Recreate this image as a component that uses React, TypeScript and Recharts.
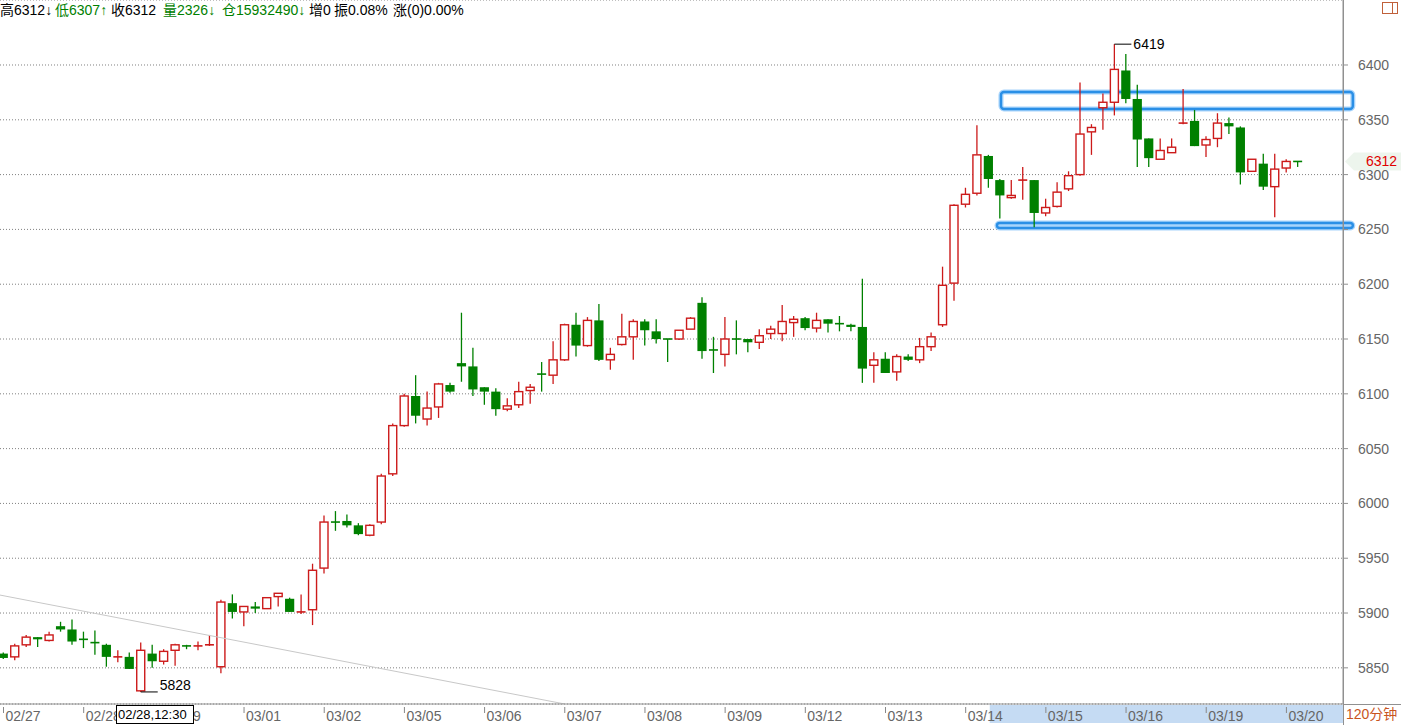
import React from 'react';
import {
  ComposedChart,
  Bar,
  XAxis,
  YAxis,
  CartesianGrid,
  ReferenceLine,
  ReferenceArea,
} from 'recharts';

// ---------- data ----------
const dayLabels = ['02/27', '02/28', '02/29', '03/01', '03/02', '03/05', '03/06', '03/07', '03/08', '03/09', '03/12', '03/13', '03/14', '03/15', '03/16', '03/19', '03/20'];
const candlesPerDay = 7;

const opens = [
  5863, 5860, 5871, 5878, 5875, 5888, 5885, 5876, 5873, 5871,
  5859, 5860, 5829, 5863, 5856, 5866, 5870, 5869, 5870, 5851,
  5909, 5901, 5906, 5904, 5915, 5913, 5900, 5903, 5941, 5983,
  5984, 5980, 5971, 5983, 6027, 6071, 6098, 6077, 6088, 6108,
  6128, 6125, 6106, 6102, 6086, 6090, 6103, 6118, 6117, 6131,
  6163, 6144, 6167, 6131, 6145, 6152, 6166, 6157, 6150, 6150,
  6159, 6183, 6140, 6136, 6150, 6150, 6147, 6155, 6155, 6165,
  6169, 6160, 6168, 6164, 6163, 6161, 6126, 6132, 6120, 6134,
  6131, 6143, 6163, 6201, 6273, 6283, 6317, 6295, 6279, 6294,
  6295, 6265, 6271, 6287, 6300, 6339, 6361, 6366, 6395, 6369,
  6333, 6314, 6320, 6346, 6349, 6327, 6333, 6347, 6343, 6303,
  6310, 6289, 6306, 6312,
];
const highs = [
  5864, 5872, 5880, 5878, 5883, 5892, 5894, 5883, 5884, 5872,
  5866, 5864, 5873, 5871, 5867, 5872, 5871, 5874, 5880, 5912,
  5917, 5906, 5910, 5914, 5918, 5914, 5917, 5945, 5989, 5993,
  5990, 5982, 5981, 6027, 6073, 6100, 6117, 6102, 6110, 6110,
  6174, 6142, 6106, 6105, 6096, 6111, 6109, 6129, 6148, 6164,
  6174, 6170, 6182, 6142, 6173, 6168, 6168, 6168, 6150, 6158,
  6170, 6188, 6152, 6170, 6167, 6150, 6159, 6162, 6181, 6171,
  6170, 6174, 6168, 6171, 6164, 6205, 6138, 6138, 6136, 6136,
  6151, 6156, 6216, 6273, 6288, 6345, 6318, 6296, 6295, 6307,
  6295, 6278, 6293, 6303, 6384, 6346, 6374, 6419, 6410, 6382,
  6333, 6333, 6333, 6378, 6359, 6335, 6356, 6352, 6344, 6314,
  6319, 6319, 6314, 6312,
];
const lows = [
  5858, 5857, 5869, 5869, 5874, 5883, 5871, 5868, 5862, 5851,
  5855, 5849, 5828, 5850, 5853, 5852, 5867, 5866, 5870, 5845,
  5895, 5888, 5900, 5904, 5906, 5901, 5899, 5889, 5936, 5975,
  5978, 5971, 5970, 5981, 6025, 6070, 6073, 6071, 6078, 6101,
  6111, 6098, 6090, 6080, 6084, 6087, 6091, 6102, 6109, 6130,
  6134, 6143, 6130, 6122, 6144, 6131, 6144, 6146, 6129, 6149,
  6159, 6132, 6119, 6125, 6136, 6138, 6141, 6150, 6148, 6152,
  6158, 6156, 6156, 6157, 6157, 6110, 6110, 6119, 6112, 6130,
  6128, 6139, 6161, 6185, 6270, 6281, 6288, 6260, 6278, 6277,
  6252, 6262, 6270, 6285, 6299, 6318, 6341, 6354, 6365, 6307,
  6307, 6314, 6320, 6346, 6326, 6316, 6325, 6337, 6291, 6303,
  6286, 6261, 6302, 6307,
];
const closes = [
  5859, 5870, 5878, 5876, 5880, 5885, 5874, 5875, 5872, 5860,
  5860, 5849, 5866, 5856, 5865, 5871, 5869, 5870, 5871, 5910,
  5901, 5906, 5904, 5914, 5918, 5901, 5901, 5939, 5983, 5982,
  5980, 5972, 5980, 6025, 6071, 6098, 6080, 6087, 6109, 6102,
  6125, 6104, 6102, 6086, 6089, 6102, 6106, 6117, 6131, 6163,
  6144, 6167, 6131, 6136, 6152, 6166, 6158, 6150, 6149, 6158,
  6169, 6139, 6139, 6150, 6149, 6147, 6153, 6159, 6166, 6168,
  6160, 6167, 6164, 6163, 6161, 6123, 6131, 6119, 6134, 6131,
  6143, 6152, 6199, 6272, 6282, 6318, 6296, 6281, 6281, 6295,
  6265, 6270, 6284, 6299, 6337, 6343, 6366, 6396, 6369, 6332,
  6315, 6322, 6325, 6347, 6326, 6332, 6347, 6344, 6302, 6314,
  6289, 6305, 6312, 6312,
];

const priceTicks = [5850, 5900, 5950, 6000, 6050, 6100, 6150, 6200, 6250, 6300, 6350, 6400];
const priceDomain = [5817, 6459.3];
const indexDomain = [-0.3056, 116.94];

const trendLine = [
  { x: -0.31, y: 5916.4 },
  { x: 49.0, y: 5817 },
];
const zoneUpper = { x1: 87.08, x2: 117.8, y1: 6359.9, y2: 6375.4 };
const zoneLower = { x1: 86.73, x2: 117.8, y1: 6251.3, y2: 6255.8 };
const rangeHighlight = { x1: 86.1, x2: 116.94, y1: 5799.7, y2: 5816.1 };
const lastPrice = 6312;

const headerItems = [
  { text: '高6312↓', color: '#000', x: 0 },
  { text: '低6307↑', color: '#008000', x: 55 },
  { text: '收6312', color: '#000', x: 111 },
  { text: '量2326↓', color: '#008000', x: 163 },
  { text: '仓15932490↓', color: '#008000', x: 222 },
  { text: '增0', color: '#000', x: 309 },
  { text: '振0.08%', color: '#000', x: 334 },
  { text: '涨(0)0.00%', color: '#000', x: 393 },
];

const crosshairLabel = '02/28,12:30';
const periodLabel = '120分钟';

// ---------- derived ----------
const data = opens.map((o, i) => ({
  i,
  open: o,
  high: highs[i],
  low: lows[i],
  close: closes[i],
  range: [lows[i], highs[i]],
}));
const maxHigh = Math.max(...highs);
const minLow = Math.min(...lows);
const dayTicks = dayLabels.map((_, d) => d * candlesPerDay);

const RED = '#cc1a1a';
const GREEN = '#008000';
const FONT = "Arial, 'Liberation Sans', 'Noto Sans CJK SC', sans-serif";

function Candle(props: any) {
  const { x, y, width, height, payload } = props;
  if (!payload || x == null || y == null) return null;
  const { open, high, low, close } = payload;
  const top = Math.min(y, y + height);
  const bot = Math.max(y, y + height);
  const py = (v: number) => (high === low ? top : top + ((high - v) / (high - low)) * (bot - top));
  const cx = x + width / 2;
  const up = close > open;
  const color = up ? RED : GREEN;
  const bTop = py(Math.max(open, close));
  const bBot = py(Math.min(open, close));
  const flat = bBot - bTop < 1.2;
  const els: any[] = [];
  if (flat) {
    els.push(<line key="w" x1={cx} x2={cx} y1={top} y2={bot} stroke={color} strokeWidth={1.3} />);
    els.push(<line key="b" x1={cx - 4.5} x2={cx + 4.5} y1={bTop} y2={bTop} stroke={color} strokeWidth={1.6} />);
  } else if (up) {
    if (bTop > top) els.push(<line key="w1" x1={cx} x2={cx} y1={top} y2={bTop} stroke={color} strokeWidth={1.3} />);
    if (bot > bBot) els.push(<line key="w2" x1={cx} x2={cx} y1={bBot} y2={bot} stroke={color} strokeWidth={1.3} />);
    els.push(<rect key="b" x={cx - 4} y={bTop} width={8} height={bBot - bTop} fill="#fff" stroke={color} strokeWidth={1.4} />);
  } else {
    els.push(<line key="w" x1={cx} x2={cx} y1={top} y2={bot} stroke={color} strokeWidth={1.3} />);
    els.push(<rect key="b" x={cx - 4.6} y={bTop} width={9.2} height={bBot - bTop} fill={color} />);
  }
  if (high === maxHigh) {
    els.push(<line key="hl" x1={cx} x2={cx + 17} y1={top} y2={top} stroke="#000" strokeWidth={1} />);
    els.push(
      <text key="ht" x={cx + 19} y={top + 5} fontSize={14} fontFamily={FONT} fill="#000">
        {high}
      </text>
    );
  }
  if (low === minLow) {
    els.push(<line key="ll" x1={cx} x2={cx + 17} y1={bot} y2={bot} stroke="#000" strokeWidth={1} />);
    els.push(
      <text key="lt" x={cx + 19} y={bot - 2} fontSize={14} fontFamily={FONT} fill="#000">
        {low}
      </text>
    );
  }
  return <g>{els}</g>;
}

function DateTick(props: any) {
  const { x, y, payload } = props;
  const d = Math.round(payload.value / candlesPerDay);
  return (
    <g>
      <line x1={x} x2={x} y1={y + 1} y2={y + 7} stroke="#888" strokeWidth={1} />
      <text x={x + 2} y={y + 15} fontSize={14} fontFamily={FONT} fill="#666">
        {dayLabels[d]}
      </text>
    </g>
  );
}

function ZoneBox(props: any) {
  const { x, y, width, height } = props;
  if (x == null) return null;
  return (
    <g>
      <rect x={x} y={y} width={width} height={height} rx={3} ry={3} fill="none" stroke="#a8d4fb" strokeWidth={5} />
      <rect x={x} y={y} width={width} height={height} rx={3} ry={3} fill="none" stroke="#2a8fe6" strokeWidth={2.4} />
    </g>
  );
}

function LastPriceLabel(props: any) {
  const vb = props.viewBox || {};
  const right = (vb.x || 0) + (vb.width || 0);
  const cy = vb.y || 0;
  return (
    <g>
      <polygon
        points={`${right + 2},${cy} ${right + 11},${cy - 9} ${right + 58},${cy - 9} ${right + 58},${cy + 9} ${right + 11},${cy + 9}`}
        fill="#edf5ed"
      />
      <text x={right + 23} y={cy + 5} fontSize={14} fontFamily={FONT} fill="#e00000">
        {lastPrice}
      </text>
    </g>
  );
}

export default function App() {
  return (
    <div style={{ position: 'absolute', left: 0, top: 0, width: 1401, height: 725, background: '#fff', overflow: 'hidden', fontFamily: FONT }}>
      <ComposedChart width={1401} height={725} data={data} margin={{ top: 0, right: 0, bottom: 0, left: 0 }}>
        <CartesianGrid vertical={false} stroke="#808080" strokeDasharray="1 2" />
        <XAxis
          dataKey="i"
          type="number"
          domain={indexDomain}
          allowDataOverflow
          ticks={dayTicks}
          interval={0}
          height={21}
          axisLine={{ stroke: '#909090' }}
          tickLine={false}
          tickSize={0}
          tick={<DateTick />}
        />
        <YAxis
          orientation="right"
          type="number"
          width={58}
          domain={priceDomain}
          allowDataOverflow
          ticks={priceTicks}
          interval={0}
          axisLine={{ stroke: '#909090' }}
          tickLine={{ stroke: '#909090' }}
          tickSize={5}
          tickMargin={10}
          tick={{ fill: '#666', fontSize: 14, fontFamily: FONT }}
        />
        <ReferenceArea
          x1={rangeHighlight.x1}
          x2={rangeHighlight.x2}
          y1={rangeHighlight.y1}
          y2={rangeHighlight.y2}
          ifOverflow="visible"
          fill="#c5dbf3"
          fillOpacity={1}
          stroke="none"
        />
        <ReferenceLine segment={trendLine} stroke="#c8c8c8" strokeWidth={1} ifOverflow="hidden" />
        <Bar dataKey="range" barSize={9} shape={(p: any) => <Candle {...p} />} isAnimationActive={false} />
        <ReferenceArea {...zoneUpper} ifOverflow="visible" shape={(p: any) => <ZoneBox {...p} />} />
        <ReferenceArea {...zoneLower} ifOverflow="visible" shape={(p: any) => <ZoneBox {...p} />} />
        <ReferenceLine y={lastPrice} stroke="none" ifOverflow="visible" label={(p: any) => <LastPriceLabel {...p} />} />
      </ComposedChart>

      {headerItems.map((h) => (
        <span
          key={h.text}
          style={{ position: 'absolute', left: h.x, top: 1, fontSize: 14, lineHeight: '18px', color: h.color, whiteSpace: 'nowrap', fontFamily: FONT }}
        >
          {h.text}
        </span>
      ))}

      <div style={{ position: 'absolute', left: 1382, top: 2, width: 14, height: 10, border: '1px solid #c0603a', boxSizing: 'content-box' }}>
        <div style={{ position: 'absolute', left: 9, top: 0, width: 1, height: 10, background: '#c0603a' }} />
      </div>

      <div style={{ position: 'absolute', left: 116, top: 705, width: 75, height: 17, border: '1px solid #000', background: '#fff', fontSize: 13, lineHeight: '17px', color: '#000', paddingLeft: 1, whiteSpace: 'nowrap', overflow: 'hidden' }}>
        {crosshairLabel}
      </div>

      <div style={{ position: 'absolute', left: 1343, top: 704, width: 58, height: 21, borderLeft: '1px solid #909090', borderTop: '1px solid #909090', boxSizing: 'border-box', fontSize: 14, lineHeight: '19px', color: '#c8541e', paddingLeft: 2, whiteSpace: 'nowrap' }}>
        {periodLabel}
      </div>
      <div style={{ position: 'absolute', left: 1343, top: 0, width: 1, height: 725, background: '#909090' }} />
    </div>
  );
}
